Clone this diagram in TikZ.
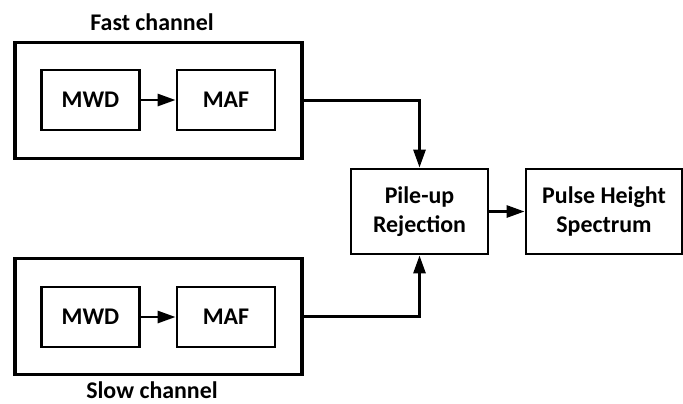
\documentclass[tikz,border=0pt]{standalone}
\usepackage{fontspec}
\setmainfont{Carlito}
\usetikzlibrary{arrows.meta}
\tikzset{
    txt/.style={font=\fontsize{17}{20.5}\selectfont\bfseries},
    blk/.style={txt, draw, line width=2pt, minimum height=1.5cm, minimum width=2.45cm, align=center},
    chan/.style={draw, line width=2.2pt, minimum width=7.175cm, minimum height=2.9cm},
    flow/.style={-{Triangle[length=0.45cm,width=0.3cm]}, line width=2pt}
}
\begin{document}
\begin{tikzpicture}[x=0.025cm, y=-0.025cm]
            \useasboundingbox (0,0) rectangle (683,403);
            % channels
            \node[chan] (fast) at (158.5,100.5) {};
            \node[chan] (slow) at (158.5,316.5) {};
            \node[txt, anchor=base] (fastlabel) at (152,30) {Fast channel};
            \node[txt, anchor=base, inner sep=0pt] (slowlabel) at (152,398) {Slow channel};
            \foreach \c/\y in {fast/100,slow/317}{
                \node[blk] (\c mwd) at (90.5,\y) {MWD};
                \node[blk] (\c maf) at (226,\y) {MAF};
                \draw[flow] (\c mwd) -- (\c maf);}
            \node[blk, minimum width=3.425cm, minimum height=2.125cm] (pile) at (419.5,211.5) {Pile-up\\Rejection};
            \node[blk, minimum width=3.9cm, minimum height=2.125cm] (pulse) at (604,211.5) {Pulse Height\\Spectrum};
            \draw[flow] (fast.east) -| (pile.north);
            \draw[flow] (slow.east) -| (pile.south);
            \draw[flow] (pile) -- (pulse);
        \end{tikzpicture}
\end{document}
